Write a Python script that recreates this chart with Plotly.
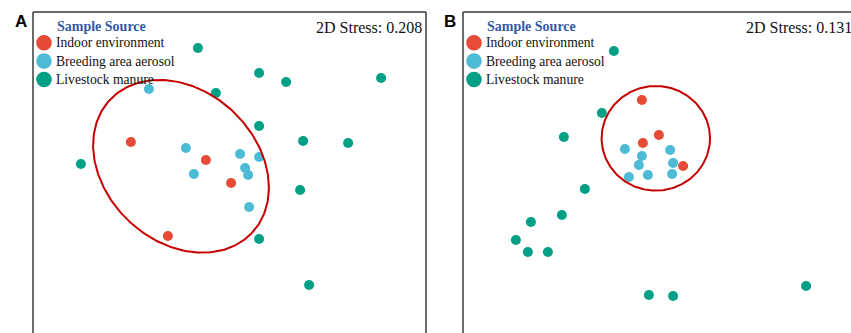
import numpy as np
import plotly.graph_objects as go

# ---------------- data ----------------
groups = ["Indoor environment", "Breeding area aerosol", "Livestock manure"]
group_colors = ["#E64B35", "#4DBBD5", "#00A087"]
legend_title = "Sample Source"
stress_a = "2D Stress: 0.208"
stress_b = "2D Stress: 0.131"

# Panel A (NMDS1, NMDS2)
a_indoor_x = [-0.493, -0.118, 0.008, -0.308]
a_indoor_y = [0.140, 0.050, -0.065, -0.330]
a_aerosol_x = [-0.403, -0.218, 0.053, 0.148, 0.078, 0.093, -0.178, 0.098]
a_aerosol_y = [0.405, 0.110, 0.080, 0.065, 0.010, -0.025, -0.020, -0.185]
a_manure_x = [-0.158, 0.148, 0.283, 0.758, -0.068, 0.148, 0.368, 0.593, -0.743, 0.353, 0.148, 0.398]
a_manure_y = [0.610, 0.485, 0.440, 0.460, 0.385, 0.220, 0.145, 0.135, 0.030, -0.100, -0.345, -0.575]

# Panel B
b_indoor_x = [-0.088, -0.003, -0.083, 0.118]
b_indoor_y = [0.350, 0.175, 0.135, 0.020]
b_aerosol_x = [-0.173, 0.053, -0.088, -0.103, 0.068, -0.153, -0.058, 0.063]
b_aerosol_y = [0.105, 0.100, 0.070, 0.025, 0.035, -0.035, -0.025, -0.020]
b_manure_x = [-0.228, -0.288, -0.478, -0.373, -0.488, -0.643, -0.718, -0.658, -0.558, -0.053, 0.068, 0.733]
b_manure_y = [0.595, 0.285, 0.165, -0.095, -0.225, -0.260, -0.350, -0.410, -0.410, -0.625, -0.630, -0.580]

# Ellipses: center x, center y, semi-axis 1, semi-axis 2, rotation (deg)
ellipse_a = [-0.2425, 0.0185, 0.4865, 0.378, -43.0]
ellipse_b = [-0.0185, 0.1585, 0.271, 0.2615, 0.0]

# ---------------- figure ----------------
W, H = 851, 333
fig = go.Figure()

def ellipse_xy(params, n=240):
    cx, cy, a, b, ang = params
    t = np.linspace(0, 2 * np.pi, n)
    th = np.deg2rad(ang)
    x = cx + a * np.cos(t) * np.cos(th) - b * np.sin(t) * np.sin(th)
    y = cy + a * np.cos(t) * np.sin(th) + b * np.sin(t) * np.cos(th)
    return x, y

panels = [
    ("x", "y", [(a_indoor_x, a_indoor_y), (a_aerosol_x, a_aerosol_y), (a_manure_x, a_manure_y)], ellipse_a),
    ("x2", "y2", [(b_indoor_x, b_indoor_y), (b_aerosol_x, b_aerosol_y), (b_manure_x, b_manure_y)], ellipse_b),
]

for xa, ya, series, ell in panels:
    for (xs, ys), name, col in zip(series, groups, group_colors):
        fig.add_trace(go.Scatter(
            x=xs, y=ys, mode="markers", name=name, showlegend=False,
            marker=dict(size=10, color=col, line=dict(width=0)),
            xaxis=xa, yaxis=ya, hoverinfo="skip", cliponaxis=False))
    ex, ey = ellipse_xy(ell)
    fig.add_trace(go.Scatter(
        x=ex, y=ey, mode="lines", showlegend=False,
        line=dict(color="#C40000", width=2),
        xaxis=xa, yaxis=ya, hoverinfo="skip"))

ax_common = dict(showgrid=False, zeroline=False, showticklabels=False,
                 showline=False, ticks="", fixedrange=True)
top_dom = 1 - 12 / H
fig.update_layout(
    width=W, height=H,
    margin=dict(l=0, r=0, t=0, b=0),
    paper_bgcolor="white", plot_bgcolor="rgba(0,0,0,0)",
    showlegend=False,
    xaxis=dict(domain=[33 / W, 426 / W], range=[-0.9825, 0.9825], **ax_common),
    yaxis=dict(domain=[0, top_dom], range=[-0.815, 0.79], anchor="x", **ax_common),
    xaxis2=dict(domain=[463 / W, 1.0], range=[-0.9825, 0.9575], anchor="y2", **ax_common),
    yaxis2=dict(domain=[0, top_dom], range=[-0.815, 0.79], anchor="x2", **ax_common),
)

frame = dict(color="#3a3a3a", width=1.5)
shapes = []
for xr, yr, sides in [("x domain", "y domain", ["l", "t", "r"]),
                      ("x2 domain", "y2 domain", ["l", "t"])]:
    if "l" in sides:
        shapes.append(dict(type="line", xref=xr, yref=yr, x0=0, x1=0, y0=0, y1=1, line=frame))
    if "t" in sides:
        shapes.append(dict(type="line", xref=xr, yref=yr, x0=0, x1=1, y0=1, y1=1, line=frame))
    if "r" in sides:
        shapes.append(dict(type="line", xref=xr, yref=yr, x0=1, x1=1, y0=0, y1=1, line=frame))

annotations = []
serif = "Liberation Serif, Times New Roman, serif"
for left, letter, stress in [(33, "A", stress_a), (463, "B", stress_b)]:
    # panel letter
    annotations.append(dict(xref="paper", yref="paper", x=(left - 12.5) / W, y=1 - 21 / H,
                            text="<b>" + letter + "</b>", showarrow=False,
                            xanchor="center", yanchor="middle",
                            font=dict(family="Liberation Sans, Arial, sans-serif", size=17, color="black")))
    # stress
    annotations.append(dict(xref="paper", yref="paper", x=(left + 391) / W, y=1 - 27 / H,
                            text=stress, showarrow=False, xanchor="right", yanchor="middle",
                            font=dict(family=serif, size=16, color="#111111")))
    # legend title
    annotations.append(dict(xref="paper", yref="paper", x=(left + 21.5) / W, y=1 - 26 / H,
                            text="<b>" + legend_title + "</b>", showarrow=False,
                            xanchor="left", yanchor="middle",
                            font=dict(family=serif, size=14, color="#3558A8")))
    for i, (name, col) in enumerate(zip(groups, group_colors)):
        yc = 42.7 + i * 18.4
        annotations.append(dict(xref="paper", yref="paper", x=(left + 21) / W, y=1 - yc / H,
                                text=name, showarrow=False, xanchor="left", yanchor="middle",
                                font=dict(family=serif, size=13.6, color="#111111")))
        shapes.append(dict(type="circle", xref="paper", yref="paper",
                           xsizemode="pixel", ysizemode="pixel",
                           xanchor=(left + 11) / W, yanchor=1 - yc / H,
                           x0=-7.8, x1=7.8, y0=-7.8, y1=7.8,
                           fillcolor=col, line=dict(width=0)))

fig.update_layout(shapes=shapes, annotations=annotations)
fig.write_html("out.html")
